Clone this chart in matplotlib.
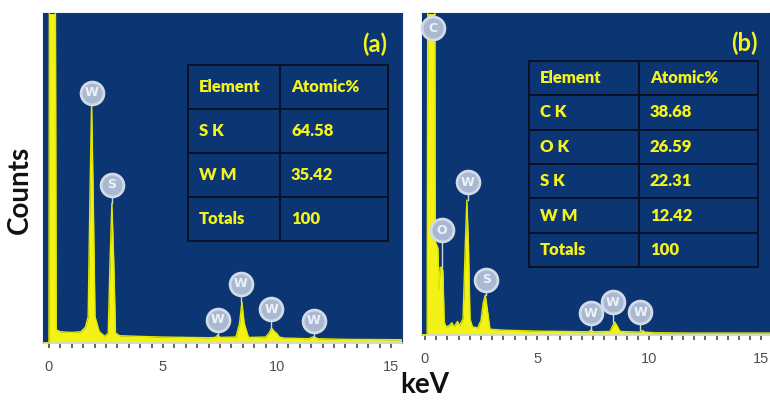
import matplotlib
matplotlib.use("Agg")
import matplotlib.pyplot as plt

# ---------------- data ----------------
# Panel (a): traced EDS spectrum outline (keV, counts in arbitrary units)
energy_a = [-0.26, 0.0, 0.02, 0.28, 0.32, 0.5, 1.0, 1.4, 1.6, 1.72, 1.80, 1.87, 1.94,
            2.02, 2.2, 2.45, 2.6, 2.68, 2.76, 2.84, 2.92, 3.1, 4.0, 5.0, 6.0, 7.0,
            7.3, 7.4, 7.5, 8.2, 8.36, 8.46, 8.56, 8.75, 9.5, 9.65, 9.76, 9.88, 10.0,
            10.1, 10.3, 11.4, 11.6, 11.8, 13.0, 15.5]
counts_a = [0, 0, 120, 120, 4.0, 3.4, 3.2, 3.4, 4.8, 8.0, 45, 72.7, 45,
            8.0, 3.5, 2.0, 3.0, 25, 42.4, 25, 3.0, 2.2, 2.0, 1.8, 1.7, 1.6,
            1.7, 2.4, 1.7, 1.8, 6.0, 12.4, 6.0, 1.7, 1.8, 3.0, 4.5, 3.5, 2.8,
            1.8, 1.5, 1.3, 1.9, 1.3, 1.1, 1.0]

# Panel (b)
energy_b = [-0.13, 0.10, 0.13, 0.44, 0.46, 0.58, 0.62, 0.68, 0.75, 0.80, 0.86, 0.95,
            1.1, 1.2, 1.3, 1.45, 1.55, 1.7, 1.80, 1.87, 1.94, 2.01, 2.12, 2.35,
            2.5, 2.60, 2.69, 2.78, 2.9, 3.5, 5.0, 7.3, 7.4, 7.5, 8.25, 8.38, 8.46,
            8.55, 8.7, 9.6, 9.7, 9.8, 10.2, 12.0, 15.4]
counts_b = [0, 0, 120, 120, 29, 27, 14, 21, 21, 20, 4.0, 2.5,
            3.0, 3.8, 2.5, 4.2, 3.0, 5.0, 28, 41.9, 28, 5.0, 2.5, 2.2,
            4.5, 10, 12.4, 8.0, 1.8, 1.5, 1.2, 1.0, 1.6, 1.0, 1.1, 3.0, 4.0,
            3.0, 1.1, 0.9, 1.4, 0.9, 0.7, 0.6, 0.6]

# Peak markers: element, label position, peak top (stem end)
marker_a_elem = ["W", "S", "W", "W", "W", "W"]
marker_a_x = [1.87, 2.76, 7.41, 8.42, 9.74, 11.62]
marker_a_y = [75.8, 47.9, 7.0, 17.9, 10.3, 6.7]
marker_a_top = [72.7, 42.4, 2.4, 12.4, 4.5, 1.9]

marker_b_elem = ["C", "O", "W", "S", "W", "W", "W"]
marker_b_x = [0.35, 0.75, 1.90, 2.73, 7.40, 8.37, 9.60]
marker_b_y = [95.3, 32.6, 47.5, 17.1, 6.8, 10.2, 7.1]
marker_b_top = [95.3, 21.0, 41.9, 12.4, 1.6, 4.0, 1.4]

# Tables
table_a_element = ["S K", "W M", "Totals"]
table_a_atomic = ["64.58", "35.42", "100"]
table_b_element = ["C K", "O K", "S K", "W M", "Totals"]
table_b_atomic = ["38.68", "26.59", "22.31", "12.42", "100"]

x_ticks = [0, 5, 10, 15]

# ---------------- style ----------------
BG = "#0c3573"
YEL = "#f2f214"
TXT_Y = "#f4f41a"
MARK_FACE = "#a9b9d2"
MARK_EDGE = "#d3dbe8"

fig = plt.figure(figsize=(7.7, 4.01), dpi=100)
fig.patch.set_facecolor("white")

ax_a = fig.add_axes([43 / 770, (401 - 343) / 401, 359 / 770, 330 / 401])
ax_b = fig.add_axes([422 / 770, (401 - 335) / 401, 348 / 770, 322 / 401])


def draw_panel(ax, xs, ys, m_elem, m_x, m_y, m_top, xlim, tag, t_elem, t_atom,
               tbbox, col_frac, px_w, px_h):
    ax.set_facecolor(BG)
    ax.fill_between(xs, 0, ys, color=YEL, linewidth=0, zorder=2)
    ax.plot(xs, ys, color="#e4e800", linewidth=1.0, zorder=3)
    ax.set_xlim(*xlim)
    ax.set_ylim(0, 100)
    # stems + markers
    for e, x, y, t in zip(m_elem, m_x, m_y, m_top):
        ax.plot([x, x], [t, y], color="#c9d3e3", linewidth=1.0, zorder=4)
    ax.scatter(m_x, m_y, s=270, facecolor=MARK_FACE, edgecolor=MARK_EDGE,
               linewidth=2.0, zorder=5, clip_on=False)
    for e, x, y in zip(m_elem, m_x, m_y):
        ax.text(x, y, e, ha="center", va="center", color="#eef2f8",
                fontsize=9, fontweight="bold", zorder=6, family="DejaVu Sans")
    # axes styling
    ax.set_yticks([])
    ax.set_xticks(x_ticks)
    ax.set_xticks([v * 0.5 for v in range(0, 31)], minor=True)
    ax.tick_params(axis="x", which="both", direction="out", length=3.5, width=1.1,
                   color="#3a3a3a", pad=9, labelsize=10.5, labelcolor="#505050")
    for lab in ax.get_xticklabels():
        lab.set_family("Liberation Sans")
    for side in ("top", "left", "right"):
        ax.spines[side].set_color(BG)
    ax.spines["bottom"].set_color("#cfd6de")
    ax.spines["bottom"].set_linewidth(1.2)
    # panel tag
    ax.text(0.925, 0.905, tag, transform=ax.transAxes, ha="center", va="center",
            color=TXT_Y, fontsize=17, fontweight="bold", family="Lato")
    # table
    cell_text = [[a, b] for a, b in zip(t_elem, t_atom)]
    tb = ax.table(cellText=cell_text, colLabels=["Element", "Atomic%"],
                  cellLoc="left", colLoc="left", bbox=tbbox,
                  colWidths=[col_frac, 1 - col_frac])
    tb.auto_set_font_size(False)
    tb.set_fontsize(12)
    tb.set_zorder(7)
    w_px = tbbox[2] * px_w
    for (r, c), cell in tb.get_celld().items():
        cell.set_facecolor(BG)
        cell.set_edgecolor("#0a1126")
        cell.set_linewidth(1.4)
        cw = w_px * (col_frac if c == 0 else 1 - col_frac)
        cell.PAD = 11 / cw
        cell.get_text().set_color(TXT_Y)
        cell.get_text().set_fontweight("heavy")
        cell.get_text().set_family("Lato")


draw_panel(ax_a, energy_a, counts_a, marker_a_elem, marker_a_x, marker_a_y,
           marker_a_top, (-0.26, 15.48), "(a)", table_a_element, table_a_atomic,
           [0.404, 0.309, 0.557, 0.533], 0.46, 359, 330)
draw_panel(ax_b, energy_b, counts_b, marker_b_elem, marker_b_x, marker_b_y,
           marker_b_top, (-0.13, 15.38), "(b)", table_b_element, table_b_atomic,
           [0.307, 0.211, 0.659, 0.640], 0.48, 348, 322)

fig.text(20 / 770, 1 - 190 / 401, "Counts", rotation=90, ha="center", va="center",
         fontsize=20, fontweight="bold", family="Lato", color="#111111")
fig.text(425 / 770, 1 - 385 / 401, "keV", ha="center", va="center",
         fontsize=20, fontweight="bold", family="Lato", color="#111111")

fig.savefig("out.png", dpi=100, facecolor="white")
